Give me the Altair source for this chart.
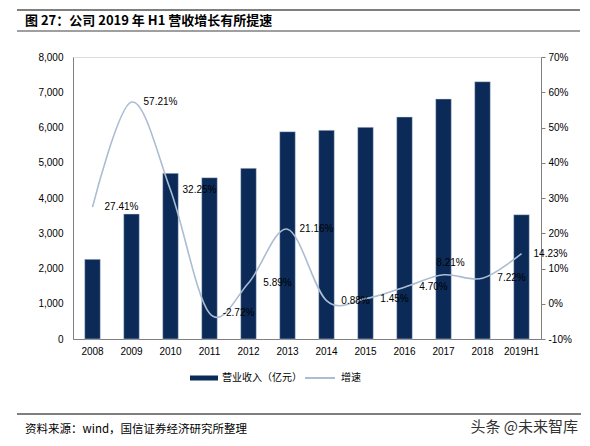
import altair as alt
import pandas as pd

years = ["2008", "2009", "2010", "2011", "2012", "2013", "2014", "2015", "2016", "2017", "2018", "2019H1"]
revenue = [2261, 3546, 4701, 4576, 4843, 5881, 5921, 6006, 6298, 6809, 7299, 3526]
growth = [27.41, 57.21, 32.25, -2.72, 5.89, 21.16, 0.88, 1.45, 4.70, 8.21, 7.22, 14.23]
growth_labels = ["27.41%", "57.21%", "32.25%", "-2.72%", "5.89%", "21.16%", "0.88%", "1.45%", "4.70%", "8.21%", "7.22%", "14.23%"]

title_text = "图 27：公司 2019 年 H1 营收增长有所提速"
source_text = "资料来源：wind，国信证券经济研究所整理"
mark_text = "头条 @未来智库"
legend_bar = "营业收入（亿元）"
legend_line = "增速"

NAVY = "#0b2a57"
LINE = "#abbdd3"
GRAY = "#7f7f7f"
FONT = "Liberation Sans"
CJK = "Noto Sans CJK SC"

df = pd.DataFrame({"year": years, "rev": revenue, "g": growth, "lab": growth_labels})
one = pd.DataFrame({"k": [0]})

xenc = alt.X("year:N", sort=years, title=None,
             scale=alt.Scale(paddingInner=0.6, paddingOuter=0.3),
             axis=alt.Axis(labelAngle=0, ticks=False, domainColor=GRAY, labelPadding=7,
                           labelFont=FONT, labelFontSize=10, labelColor="#000"))

bars = alt.Chart(df).mark_bar(color=NAVY, stroke="#d0dae6", strokeWidth=0.5).encode(
    x=xenc,
    y=alt.Y("rev:Q", title=None,
            scale=alt.Scale(domain=[0, 8000], nice=False),
            axis=alt.Axis(values=list(range(0, 8001, 1000)), format=",d", ticks=False,
                          grid=False, domainColor=GRAY, labelPadding=10,
                          labelFont=FONT, labelFontSize=10, labelColor="#000")),
)

yaxis2 = alt.Axis(values=list(range(-10, 71, 10)), labelExpr="datum.value + '%'",
                  orient="right", grid=False, domainColor=GRAY, tickColor=GRAY,
                  tickSize=4, labelPadding=3, labelFont=FONT, labelFontSize=10,
                  labelColor="#000")
yscale2 = alt.Scale(domain=[-10, 70], nice=False)

line = alt.Chart(df).mark_line(color=LINE, strokeWidth=1.6, interpolate="cardinal").encode(
    x=alt.X("year:N", sort=years),
    y=alt.Y("g:Q", title=None, scale=yscale2, axis=yaxis2),
)

labels_main = alt.Chart(df).transform_filter("datum.year != '2017'").mark_text(
    dx=29, font=FONT, fontSize=10, color="#000").encode(
    x=alt.X("year:N", sort=years),
    y=alt.Y("g:Q", title=None, scale=yscale2, axis=yaxis2),
    text="lab:N",
)
labels_2017 = alt.Chart(df).transform_filter("datum.year == '2017'").mark_text(
    dx=7, dy=-12, font=FONT, fontSize=10, color="#000").encode(
    x=alt.X("year:N", sort=years),
    y=alt.Y("g:Q", title=None, scale=yscale2, axis=yaxis2),
    text="lab:N",
)

growth_layer = alt.layer(line, labels_main, labels_2017)

def rule(x1, x2, y, w, color=GRAY):
    return alt.Chart(one).mark_rule(color=color, strokeWidth=w).encode(
        x=alt.value(x1), x2=alt.value(x2), y=alt.value(y))

def txt(s, x, y, size, font=CJK, weight="normal", align="left", color="#000"):
    return alt.Chart(one).mark_text(text=s, font=font, fontSize=size, fontWeight=weight,
                                    align=align, baseline="middle", color=color).encode(
        x=alt.value(x), y=alt.value(y))

deco = [
    rule(-56, 507, -47, 2),
    rule(-56, 507, -26, 1.5),
    rule(-56, 510, 357, 2),
    txt(title_text, -48, -36.5, 13, weight="bold"),
    txt(source_text, -48, 373, 11.5),
    txt(mark_text, 505, 370, 15, align="right", color="#333"),
    rule(117, 145, 321, 5, NAVY),
    txt(legend_bar, 149, 321, 10),
    rule(232, 262, 321, 2, LINE),
    txt(legend_line, 268, 321, 10),
]

chart = alt.layer(bars, growth_layer, *deco).resolve_scale(y="independent").properties(
    width=468, height=282,
    padding={"left": 65, "top": 49, "right": 40, "bottom": 99},
    autosize=alt.AutoSizeParams(type="none"),
).configure_view(stroke=None).configure(background="white")

chart.save("out.html", embed_options={"renderer": "svg", "actions": False})
